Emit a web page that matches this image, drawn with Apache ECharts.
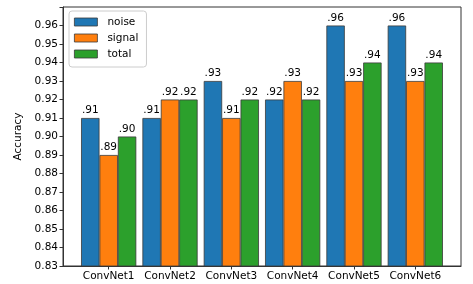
<!DOCTYPE html>
<html>
<head>
<meta charset="utf-8">
<script src="https://cdn.jsdelivr.net/npm/echarts@6/dist/echarts.min.js"></script>
<style>
html,body{margin:0;padding:0;background:#fff;}
#chart{width:473px;height:284px;}
</style>
</head>
<body>
<div id="chart"></div>
<script>
const categories = ['ConvNet1','ConvNet2','ConvNet3','ConvNet4','ConvNet5','ConvNet6'];
const noise  = [0.91, 0.91, 0.93, 0.92, 0.96, 0.96];
const signal = [0.89, 0.92, 0.91, 0.93, 0.93, 0.93];
const total  = [0.90, 0.92, 0.92, 0.92, 0.94, 0.94];
const seriesNames = ['noise','signal','total'];
const colors = ['#1f77b4','#ff7f0e','#2ca02c'];

const FONT = 'DejaVu Sans';
const offsets = [-0.3, 0, 0.3];
const allData = [noise, signal, total];

function fmt(v){ return v.toFixed(2).replace(/^0/, ''); }

const series = allData.map((arr, s) => ({
  name: seriesNames[s],
  type: 'bar',
  barWidth: 18.4,
  barGap: '-100%',
  itemStyle: { color: colors[s], borderColor: '#3a3a3a', borderWidth: 0.8 },
  label: {
    show: true, position: 'top', distance: 2,
    fontFamily: FONT, fontSize: 10.5, color: '#000',
    formatter: p => fmt(p.value[1])
  },
  data: arr.map((v, i) => [i + offsets[s], v])
}));

const chart = echarts.init(document.getElementById('chart'), null, {renderer: 'canvas'});
chart.setOption({
  animation: false,
  grid: { left: 63, right: 12, top: 7, bottom: 18, show: true, borderColor: '#333', borderWidth: 1, backgroundColor: 'transparent' },
  legend: {
    orient: 'vertical', left: 69, top: 11,
    padding: [5, 8, 7, 5],
    borderColor: '#ccc', borderWidth: 1, borderRadius: 3,
    backgroundColor: 'rgba(255,255,255,0.8)',
    icon: 'rect',
    itemWidth: 23, itemHeight: 8, itemGap: 4,
    textStyle: { fontFamily: FONT, fontSize: 10.5, color: '#000', lineHeight: 12, padding: [0,0,0,5] },
    data: seriesNames.map((n, i) => ({ name: n, itemStyle: { color: colors[i], borderColor: '#3a3a3a', borderWidth: 0.8 } }))
  },
  xAxis: {
    type: 'value', min: -0.745, max: 5.745,
    axisLine: { show: true, onZero: false, lineStyle: { color: '#333', width: 1 } },
    axisTick: { show: true, length: 3.5, customValues: [0,1,2,3,4,5], lineStyle: { color: '#333' } },
    axisLabel: {
      customValues: [0,1,2,3,4,5],
      fontFamily: FONT, fontSize: 10.5, color: '#000', margin: 5,
      formatter: v => categories[Math.round(v)]
    },
    splitLine: { show: false }
  },
  yAxis: {
    type: 'value', min: 0.83, max: 0.97, interval: 0.01,
    name: 'Accuracy', nameLocation: 'middle', nameGap: 33,
    nameTextStyle: { fontFamily: FONT, fontSize: 10.5, color: '#000' },
    axisLine: { show: true, onZero: false, lineStyle: { color: '#333', width: 1 } },
    axisTick: { show: true, length: 3.5, lineStyle: { color: '#333' } },
    axisLabel: {
      fontFamily: FONT, fontSize: 10.5, color: '#000', margin: 5,
      formatter: v => (v > 0.965 ? '' : v.toFixed(2))
    },
    splitLine: { show: false }
  },
  series: series
});
</script>
</body>
</html>
